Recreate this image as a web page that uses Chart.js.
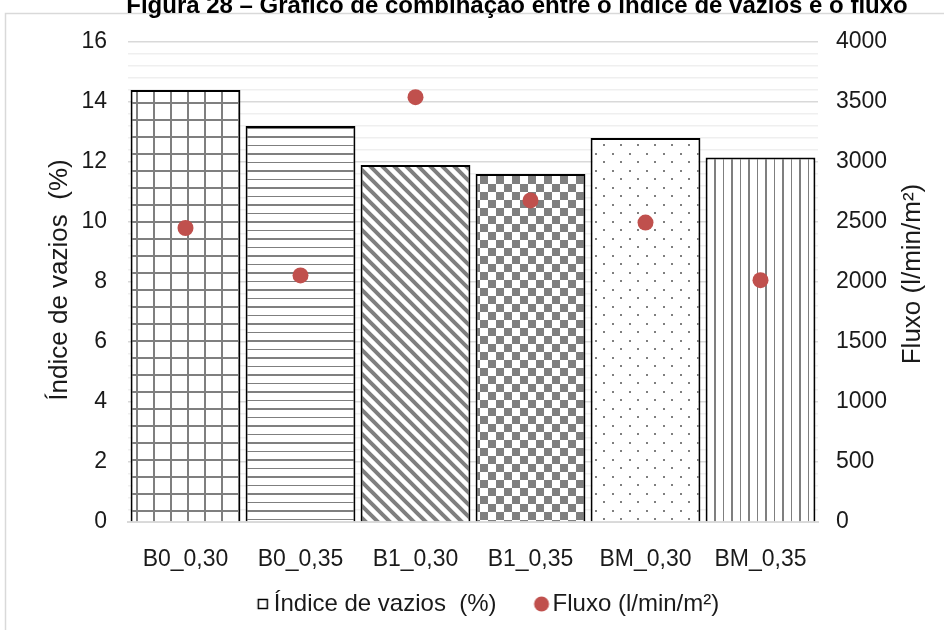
<!DOCTYPE html>
<html>
<head>
<meta charset="utf-8">
<script src="https://cdn.jsdelivr.net/npm/chart.js@4/dist/chart.umd.min.js"></script>
<style>
  html, body { margin: 0; padding: 0; background: #fff; }
  #wrap { width: 944px; height: 630px; position: relative; }
</style>
</head>
<body>
<div id="wrap"><canvas id="chart"></canvas></div>
<script>
const titleText = "Figura 28 – Gráfico de combinação entre o índice de vazios e o fluxo";
const categories = ["B0_0,30", "B0_0,35", "B1_0,30", "B1_0,35", "BM_0,30", "BM_0,35"];
const indiceVazios = [14.4, 13.2, 11.9, 11.6, 12.8, 12.15];
const fluxo = [2450, 2055, 3540, 2680, 2495, 2015];
const leftTitle = "Índice de vazios  (%)";
const rightTitle = "Fluxo (l/min/m²)";

const FONT = "'Liberation Sans', Arial, sans-serif";
const TXT = "#1a1a1a";
const GRAY = "#7f7f7f";
const RED = "#c0504d";

function makePattern(w, h, draw) {
  const c = document.createElement("canvas");
  c.width = w;
  c.height = h;
  const g = c.getContext("2d");
  g.fillStyle = "#fff";
  g.fillRect(0, 0, w, h);
  g.fillStyle = GRAY;
  g.strokeStyle = GRAY;
  draw(g);
  return document.createElement("canvas").getContext("2d").createPattern(c, "repeat");
}

const patterns = [
  // grid
  makePattern(17, 17, (g) => {
    g.fillRect(0, 0, 17, 2);
    g.fillRect(0, 0, 2, 17);
  }),
  // horizontal lines
  makePattern(17, 17, (g) => {
    g.fillRect(0, 0, 17, 2);
    g.fillRect(0, 9, 17, 1);
  }),
  // diagonal stripes
  makePattern(12, 12, (g) => {
    g.lineWidth = 4;
    g.beginPath();
    g.moveTo(-3, -3); g.lineTo(15, 15);
    g.moveTo(-15, -3); g.lineTo(3, 15);
    g.moveTo(9, -3); g.lineTo(27, 15);
    g.stroke();
  }),
  // checkerboard
  makePattern(16, 16, (g) => {
    g.fillRect(0, 0, 8, 8);
    g.fillRect(8, 8, 8, 8);
  }),
  // dots
  makePattern(17, 17, (g) => {
    g.fillRect(0, 0, 2, 2);
    g.fillRect(8, 8, 2, 2);
  }),
  // vertical lines
  makePattern(17, 17, (g) => {
    g.fillRect(0, 0, 2, 17);
    g.fillRect(9, 0, 1, 17);
  }),
];

// legend markers, placed right next to their text
function legendMarker(drawFn) {
  const c = document.createElement("canvas");
  c.width = 60;
  c.height = 16;
  drawFn(c.getContext("2d"));
  return c;
}
const squareMarker = legendMarker((g) => {
  g.fillStyle = "#fff";
  g.fillRect(38, 3, 10, 10);
  g.strokeStyle = "#000";
  g.lineWidth = 1.5;
  g.strokeRect(38.5, 3.5, 9, 9);
});
const circleMarker = legendMarker((g) => {
  g.fillStyle = RED;
  g.beginPath();
  g.arc(43, 8, 7.5, 0, Math.PI * 2);
  g.fill();
});

function isMajor(v) {
  return Math.abs(v / 2 - Math.round(v / 2)) < 1e-6;
}

const decorations = {
  id: "decorations",
  beforeDraw(chart) {
    const ctx = chart.ctx;
    ctx.save();
    ctx.strokeStyle = "#d9d9d9";
    ctx.lineWidth = 1.5;
    ctx.beginPath();
    ctx.moveTo(5.5, 640);
    ctx.lineTo(5.5, 13.5);
    ctx.lineTo(950, 13.5);
    ctx.stroke();
    ctx.restore();
  },
  afterDraw(chart) {
    const ctx = chart.ctx;
    const area = chart.chartArea;
    const midY = (area.top + area.bottom) / 2;
    ctx.save();
    ctx.fillStyle = "#000";
    ctx.font = "bold 24px " + FONT;
    ctx.textAlign = "center";
    ctx.textBaseline = "alphabetic";
    ctx.fillText(titleText, 517, 13);
    ctx.restore();

    ctx.save();
    ctx.fillStyle = TXT;
    ctx.font = "26px " + FONT;
    ctx.textAlign = "center";
    ctx.textBaseline = "middle";
    ctx.translate(60, midY - 2);
    ctx.rotate(-Math.PI / 2);
    ctx.fillText(leftTitle, 0, 0);
    ctx.restore();

    ctx.save();
    ctx.fillStyle = TXT;
    ctx.font = "26px " + FONT;
    ctx.textAlign = "center";
    ctx.textBaseline = "middle";
    ctx.translate(913, midY - 8);
    ctx.rotate(-Math.PI / 2);
    ctx.fillText(rightTitle, 0, 0);
    ctx.restore();
  },
};

new Chart(document.getElementById("chart"), {
  data: {
    labels: categories,
    datasets: [
      {
        type: "line",
        label: "Fluxo (l/min/m²)",
        data: fluxo,
        yAxisID: "y1",
        showLine: false,
        pointRadius: 8,
        pointHoverRadius: 8,
        pointBackgroundColor: RED,
        pointBorderWidth: 0,
        backgroundColor: RED,
        borderColor: RED,
        order: 0,
      },
      {
        type: "bar",
        label: "Índice de vazios  (%)",
        data: indiceVazios,
        yAxisID: "y",
        backgroundColor: patterns,
        borderColor: "#000",
        borderWidth: 2,
        barPercentage: 0.955,
        categoryPercentage: 1,
        order: 1,
      },
    ],
  },
  options: {
    responsive: true,
    maintainAspectRatio: false,
    animation: false,
    layout: { padding: { top: 42, left: 13, right: 0, bottom: 4 } },
    plugins: {
      tooltip: { enabled: false },
      legend: {
        position: "bottom",
        labels: {
          usePointStyle: true,
          pointStyleWidth: 24,
          boxHeight: 14,
          padding: 20,
          color: TXT,
          font: { family: FONT, size: 24 },
          generateLabels() {
            return [
              { text: "Índice de vazios  (%)", pointStyle: squareMarker, datasetIndex: 1, fontColor: TXT, lineWidth: 0 },
              { text: "Fluxo (l/min/m²)", pointStyle: circleMarker, datasetIndex: 0, fontColor: TXT, lineWidth: 0 },
            ];
          },
        },
      },
    },
    scales: {
      x: {
        grid: { display: false, drawTicks: false },
        border: { display: true, color: "#d9d9d9", width: 2 },
        ticks: { color: TXT, font: { family: FONT, size: 23 }, padding: 24, maxRotation: 0 },
        afterFit(scale) { scale.height = 50; },
      },
      y: {
        position: "left",
        min: 0,
        max: 16,
        grid: {
          drawTicks: false,
          color: (c) => (c.tick && isMajor(c.tick.value) ? "#d9d9d9" : "#efefef"),
          lineWidth: 1.5,
        },
        border: { display: false },
        ticks: {
          stepSize: 0.4,
          autoSkip: false,
          padding: 21,
          color: TXT,
          font: { family: FONT, size: 23 },
          callback: (v) => (isMajor(v) ? String(Math.round(v)) : ""),
        },
        afterFit(scale) { scale.width = 115; },
      },
      y1: {
        position: "right",
        min: 0,
        max: 4000,
        grid: { display: false, drawTicks: false },
        border: { display: false },
        ticks: {
          stepSize: 500,
          padding: 18,
          color: TXT,
          font: { family: FONT, size: 23 },
          callback: (v) => String(v),
        },
        afterFit(scale) { scale.width = 126; },
      },
    },
  },
  plugins: [decorations],
});
</script>
</body>
</html>
